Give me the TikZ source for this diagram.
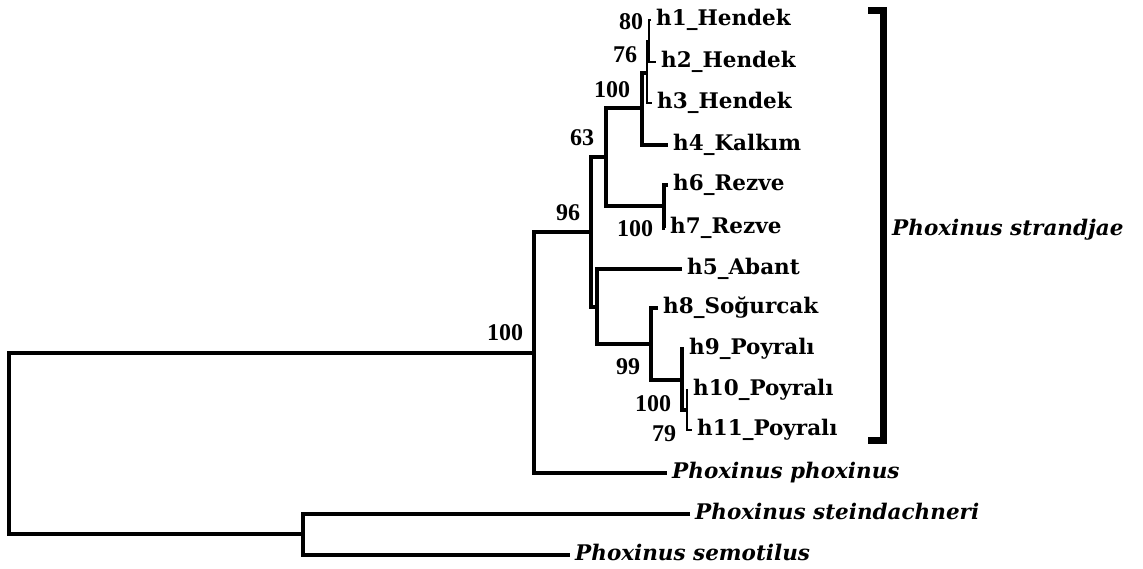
\documentclass[tikz,border=0pt]{standalone}
\usepackage{fontspec}
\setmainfont{DejaVu Serif}
\newfontfamily\bsfont{Liberation Serif}
\begin{document}
\begin{tikzpicture}[x=1pt,y=-1pt,
  br/.style={line width=3.4pt, line join=miter},
  thinbr/.style={line width=2.4pt, line join=miter},
  bracketline/.style={line width=7pt, line join=miter},
  taxon/.style={anchor=west, inner xsep=5pt, inner ysep=0pt, text height=11pt, text depth=0pt, font=\fontsize{21.5}{21.5}\selectfont\bfseries},
  species/.style={taxon, font=\fontsize{21.5}{21.5}\selectfont\bfseries\itshape},
  boot/.style={inner sep=0pt, font=\bsfont\fontsize{24}{24}\selectfont\bfseries}]
\useasboundingbox (0,0) rectangle (1143,569);
% tips / labels
\node[taxon] (t1) at (651,20) {h1\_Hendek};
\node[taxon] (t2) at (656,62) {h2\_Hendek};
\node[taxon] (t3) at (652,103) {h3\_Hendek};
\node[taxon] (t4) at (668,145) {h4\_Kalkım};
\node[taxon] (t6) at (668,185) {h6\_Rezve};
\node[taxon] (t7) at (665,228) {h7\_Rezve};
\node[taxon] (t5) at (682,269) {h5\_Abant};
\node[taxon] (t8) at (658,308) {h8\_Soğurcak};
\node[taxon] (t9) at (684,349) {h9\_Poyralı};
\node[taxon] (t10) at (688,390) {h10\_Poyralı};
\node[taxon] (t11) at (692,430) {h11\_Poyralı};
\node[species] (tpp) at (667,473) {Phoxinus phoxinus};
\node[species] (tst) at (690,514) {Phoxinus steindachneri};
\node[species] (tse) at (570,555) {Phoxinus semotilus};
% internal nodes
\coordinate (nA) at (649,41);
\coordinate (nB) at (647,73);
\coordinate (nC) at (642,108);
\coordinate (nD) at (606,157);
\coordinate (nE) at (664,206);
\coordinate (nF) at (591,232);
\coordinate (nG) at (597,307);
\coordinate (nH) at (651,344);
\coordinate (nI) at (682,380);
\coordinate (nJ) at (687,410);
\coordinate (nK) at (534,353);
\coordinate (nL) at (303,534);
\coordinate (nR) at (9,444);
% branches
\draw[thinbr] (t1.west) -| (nA) |- (t2.west);
\draw[thinbr] (nA) -| (nB) |- (t3.west);
\draw[br] (nB) -| (nC) |- (t4.west);
\draw[br] (nC) -| (nD) |- (nE);
\draw[br] (t6.west) -| (nE) |- (t7.west);
\draw[br] (nD) -| (nF) |- (nG);
\draw[br] (t5.west) -| (nG) |- (nH);
\draw[br] (t8.west) -| (nH) |- (nI);
\draw[br] (t9.west) -| (nI) |- (nJ);
\draw[thinbr] (t10.west) -| (nJ) |- (t11.west);
\draw[br] (nF) -| (nK) |- (tpp.west);
\draw[br] (tst.west) -| (nL) |- (tse.west);
\draw[br] (nK) -| (nR) |- (nL);
% bootstrap values
\node[boot] (b1) at (631,22) {80};
\node[boot] (b2) at (625,55) {76};
\node[boot] (b3) at (612,90) {100};
\node[boot] (b4) at (582,138) {63};
\node[boot] (b5) at (568,213) {96};
\node[boot] (b6) at (635,229) {100};
\node[boot] (b7) at (505,333) {100};
\node[boot] (b8) at (628,367) {99};
\node[boot] (b9) at (653,404) {100};
\node[boot] (b10) at (664,434) {79};
% bracket
\coordinate (brT) at (868,10.5);
\coordinate (brB) at (868,440.5);
\coordinate (brM) at (883.5,230);
\draw[bracketline] (brT) -| (brM) |- (brB);
\node[species] (grp) at (887,230) {Phoxinus strandjae};
\end{tikzpicture}
\end{document}
